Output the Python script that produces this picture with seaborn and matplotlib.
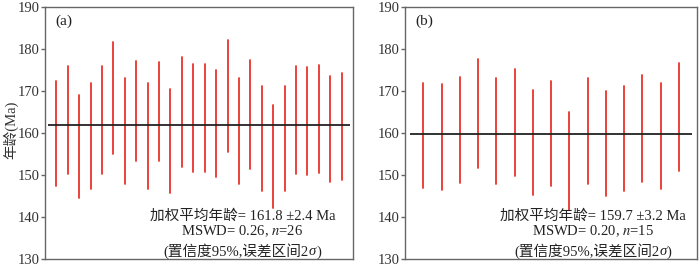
import numpy as np
import pandas as pd
import matplotlib
matplotlib.use("Agg")
import matplotlib.pyplot as plt
import seaborn as sns
from matplotlib.offsetbox import TextArea, HPacker, AnnotationBbox

# spot ages (Ma): lower / upper end of each 2-sigma bar
a_low = [147.3, 150.3, 144.6, 146.7, 150.3, 155.1, 147.8, 153.4, 146.7, 153.4, 145.7,
         152.0, 150.6, 150.8, 149.5, 155.5, 147.8, 151.5, 146.3, 142.2, 146.3, 150.3,
         150.1, 150.5, 148.4, 148.7]
a_high = [172.5, 176.0, 169.1, 171.8, 176.0, 181.6, 173.0, 177.1, 171.9, 177.0, 170.5,
          178.0, 176.4, 176.5, 175.0, 182.1, 173.0, 177.5, 171.3, 166.6, 171.3, 176.0,
          175.6, 176.3, 173.6, 174.3]
b_low = [146.8, 146.4, 148.2, 151.7, 147.9, 149.8, 145.3, 147.3, 141.6, 147.8, 145.0,
         146.3, 148.4, 146.6, 150.9]
b_high = [171.9, 171.6, 173.4, 177.7, 173.2, 175.3, 170.2, 172.5, 164.9, 173.0, 169.9,
          171.3, 173.9, 171.8, 176.7]

mean_a, mean_b = 161.8, 159.7
labels_a = ["加权平均年龄= 161.8 ±2.4 Ma", "MSWD= 0.26, $n$=26"]
labels_b = ["加权平均年龄= 159.7 ±3.2 Ma", "MSWD= 0.20, $n$=15"]
conf_parts = ["(置信度95%,误差区间2", "σ", ")"]

sns.set_style("ticks")
plt.rcParams['font.family'] = ['Liberation Serif', 'Noto Sans CJK SC', 'DejaVu Sans']
plt.rcParams['mathtext.fontset'] = 'stix'

RED = "#e8352b"
TXT = "#222222"
W, H = 700, 266
fig = plt.figure(figsize=(7, 2.66), dpi=100)
ax_a = fig.add_axes([45 / W, 7 / H, 308 / W, 252 / H])
ax_b = fig.add_axes([405 / W, 7 / H, 292 / W, 252 / H])


def to_long(low, high):
    n = len(low)
    idx = np.arange(1, n + 1)
    return pd.DataFrame({"idx": np.concatenate([idx, idx]),
                         "age": np.concatenate([low, high])})


def draw(ax, low, high, mean, texts, tag, text_x):
    n = len(low)
    df = to_long(low, high)
    sns.lineplot(data=df, x="idx", y="age", units="idx", estimator=None,
                 color=RED, lw=1.3, ax=ax, legend=False)
    ax.hlines(mean, 0.25, n + 0.75, color=TXT, lw=1.3, zorder=3)
    ax.set_xlim(0, n + 1)
    ax.set_ylim(130, 190)
    ax.set_yticks(range(130, 191, 10))
    ax.set_xticks([])
    ax.set_xlabel("")
    ax.set_ylabel("")
    for s in ax.spines.values():
        s.set_visible(True)
        s.set_color("#666666")
        s.set_linewidth(1.0)
    ax.tick_params(axis="y", direction="out", length=3, width=1, color="#666666",
                   labelsize=10.5, labelcolor="#333333", pad=1)
    ax.text(0.035, 0.945, tag, transform=ax.transAxes, fontsize=11, color=TXT,
            va="center", ha="left")
    ax.text(text_x, 140.2, texts[0], ha="center", va="center", fontsize=10.5, color=TXT)
    ax.text(text_x, 136.6, texts[1], ha="center", va="center", fontsize=10.5, color=TXT)
    # last line with italic sigma
    props = dict(fontsize=10.5, color=TXT)
    boxes = [TextArea(conf_parts[0], textprops=props),
             TextArea(conf_parts[1], textprops=dict(props, style="italic")),
             TextArea(conf_parts[2], textprops=props)]
    pack = HPacker(children=boxes, pad=0, sep=0, align="baseline")
    ab = AnnotationBbox(pack, (text_x, 132.0), xycoords="data", frameon=False,
                        box_alignment=(0.5, 0.5), pad=0)
    ax.add_artist(ab)


draw(ax_a, a_low, a_high, mean_a, labels_a, "(a)", 17.3)
draw(ax_b, b_low, b_high, mean_b, labels_b, "(b)", 10.3)
fig.text(11 / W, 1 - 130 / H, "年龄(Ma)", rotation=90, ha="center", va="center",
         fontsize=10.5, color="#333333")

fig.savefig("out.png", dpi=100)
